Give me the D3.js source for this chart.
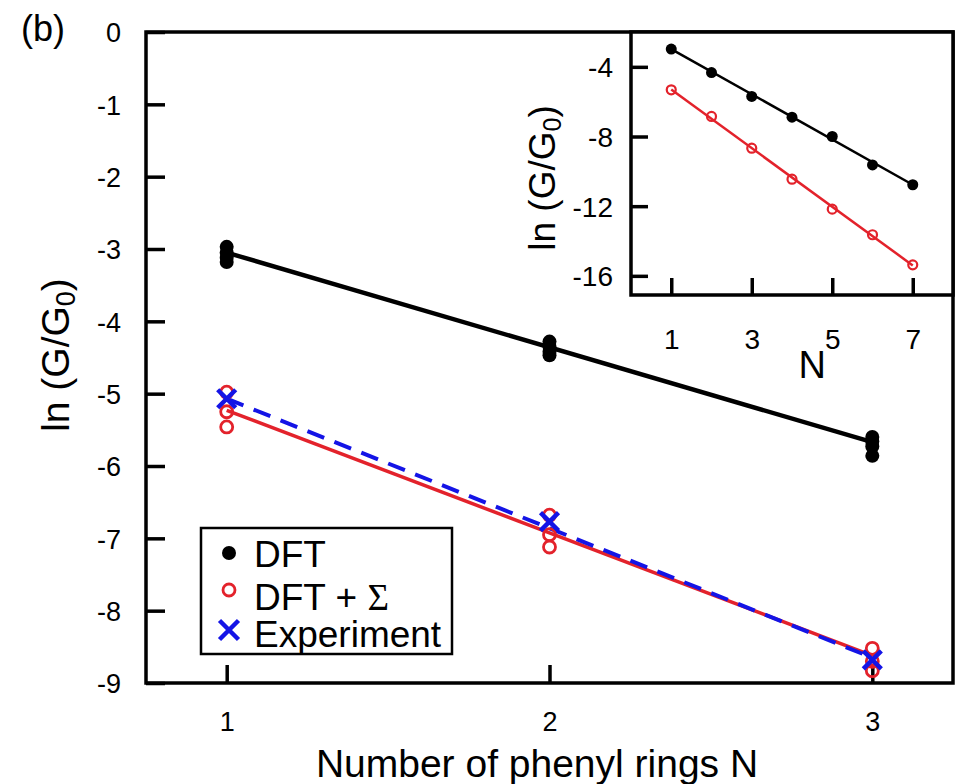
<!DOCTYPE html>
<html>
<head>
<meta charset="utf-8">
<script src="https://cdn.jsdelivr.net/npm/d3@7"></script>
<style>
  html, body { margin: 0; padding: 0; background: #fff; }
  svg text { font-family: "Liberation Sans", Arial, sans-serif; fill: #000; }
</style>
</head>
<body>
<svg id="chart" width="967" height="784"></svg>
<script>
'use strict';

// main panel: conductance vs number of phenyl rings
var dftN      = [1, 1, 1, 1, 2, 2, 2, 2, 3, 3, 3, 3];
var dftValues = [-2.97, -3.05, -3.12, -3.18, -4.28, -4.35, -4.42, -4.47, -5.60, -5.66, -5.73, -5.86];
var sigmaN      = [1, 1, 1, 2, 2, 2, 3, 3, 3];
var sigmaValues = [-4.98, -5.25, -5.46, -6.68, -6.95, -7.12, -8.52, -8.70, -8.83];
var expN      = [1, 2, 3];
var expValues = [-5.07, -6.77, -8.68];
// fitted lines, end points at N = 1 and N = 3
var fitN     = [1, 3];
var dftFit   = [-3.05, -5.67];
var sigmaFit = [-5.23, -8.62];
var expFit   = [-5.07, -8.65];
var mainXTicks = [1, 2, 3];
var mainYTicks = [0, -1, -2, -3, -4, -5, -6, -7, -8, -9];

// inset: longer molecules
var insetN          = [1, 2, 3, 4, 5, 6, 7];
var insetDft        = [-2.98, -4.33, -5.70, -6.89, -8.00, -9.63, -10.77];
var insetSigma      = [-5.32, -6.85, -8.67, -10.45, -12.17, -13.64, -15.37];
var insetFitN       = [1, 7];
var insetDftFit     = [-2.98, -10.77];
var insetSigmaFit   = [-5.30, -15.40];
var insetXTicks = [1, 3, 5, 7];
var insetYTicks = [-4, -8, -12, -16];

var legendLabels = ['DFT', 'DFT + ', 'Experiment'];

var RED = '#e3222b', BLUE = '#1414e6';

var svg = d3.select('#chart');

// ---------- main panel ----------
var x = d3.scaleLinear().domain([0.75, 3.25]).range([146, 953]);
var y = d3.scaleLinear().domain([-9, 0]).range([683, 32]);

var xAxis = d3.axisBottom(x).tickValues(mainXTicks).tickSize(-18).tickPadding(29).tickFormat(d3.format('d'));
var yAxis = d3.axisLeft(y).tickValues(mainYTicks).tickSize(-19).tickPadding(25).tickFormat(function (d) { return d === 0 ? '0' : '-' + Math.abs(d); });

var gx = svg.append('g').attr('transform', 'translate(0,683)').call(xAxis);
var gy = svg.append('g').attr('transform', 'translate(146,0)').call(yAxis);
[gx, gy].forEach(function (g) {
  g.select('.domain').remove();
  g.selectAll('.tick line').attr('stroke', '#000').attr('stroke-width', 3.5);
  g.selectAll('.tick text').attr('font-size', 27).attr('font-family', '"Liberation Sans", Arial, sans-serif');
});
gy.selectAll('.tick text').attr('dy', '0.36em');

var line = function (xs, ys, sx, sy) {
  return d3.line().x(function (d) { return sx(d[0]); }).y(function (d) { return sy(d[1]); })(d3.zip(xs, ys));
};

svg.append('path').attr('d', line(fitN, dftFit, x, y))
  .attr('stroke', '#000').attr('stroke-width', 4.5).attr('fill', 'none');
svg.append('path').attr('d', line(fitN, sigmaFit, x, y))
  .attr('stroke', RED).attr('stroke-width', 3.5).attr('fill', 'none');
svg.append('path').attr('d', line(fitN, expFit, x, y))
  .attr('stroke', BLUE).attr('stroke-width', 4).attr('fill', 'none')
  .attr('stroke-dasharray', '18,11');

svg.append('g').selectAll('circle').data(d3.zip(dftN, dftValues)).enter().append('circle')
  .attr('cx', function (d) { return x(d[0]); })
  .attr('cy', function (d) { return y(d[1]); })
  .attr('r', 7).attr('fill', '#000');

svg.append('g').selectAll('circle').data(d3.zip(sigmaN, sigmaValues)).enter().append('circle')
  .attr('cx', function (d) { return x(d[0]); })
  .attr('cy', function (d) { return y(d[1]); })
  .attr('r', 6).attr('fill', 'none').attr('stroke', RED).attr('stroke-width', 2.8);

var cross = function (s) { return 'M' + (-s) + ',' + (-s) + 'L' + s + ',' + s + 'M' + (-s) + ',' + s + 'L' + s + ',' + (-s); };

svg.append('g').selectAll('path').data(d3.zip(expN, expValues)).enter().append('path')
  .attr('transform', function (d) { return 'translate(' + x(d[0]) + ',' + y(d[1]) + ')'; })
  .attr('d', cross(9)).attr('stroke', BLUE).attr('stroke-width', 4.5).attr('fill', 'none');

// frame
svg.append('rect').attr('x', 146).attr('y', 32).attr('width', 807).attr('height', 651)
  .attr('fill', 'none').attr('stroke', '#000').attr('stroke-width', 3.5);

// legend
var lg = svg.append('g');
lg.append('rect').attr('x', 201).attr('y', 528).attr('width', 251).attr('height', 126)
  .attr('fill', '#fff').attr('stroke', '#000').attr('stroke-width', 2.5);
lg.append('circle').attr('cx', 229).attr('cy', 553).attr('r', 7).attr('fill', '#000');
lg.append('circle').attr('cx', 229).attr('cy', 590).attr('r', 6).attr('fill', 'none').attr('stroke', RED).attr('stroke-width', 2.8);
lg.append('path').attr('transform', 'translate(229,630)').attr('d', cross(9.5))
  .attr('stroke', BLUE).attr('stroke-width', 4.5);
lg.append('text').attr('x', 254).attr('y', 567).attr('font-size', 37).text(legendLabels[0]);
var t2 = lg.append('text').attr('x', 254).attr('y', 610).attr('font-size', 37).text(legendLabels[1]);
t2.append('tspan').attr('font-family', '"Liberation Serif", "Times New Roman", serif').text('\u03A3');
lg.append('text').attr('x', 254).attr('y', 647).attr('font-size', 37).text(legendLabels[2]);

// axis titles
svg.append('text').attr('x', 537).attr('y', 777).attr('text-anchor', 'middle').attr('font-size', 39)
  .text('Number of phenyl rings N');
var yl = svg.append('text').attr('transform', 'translate(69,355) rotate(-90)').attr('text-anchor', 'middle').attr('font-size', 39);
yl.append('tspan').text('ln (G/G');
yl.append('tspan').attr('font-size', 27).attr('dy', 6).text('0');
yl.append('tspan').attr('dy', -6).text(')');

svg.append('text').attr('x', 21).attr('y', 41).attr('font-size', 36).text('(b)');

// ---------- inset ----------
var ix = d3.scaleLinear().domain([0, 8]).range([631, 953]);
var iy = d3.scaleLinear().domain([-17.1, -2]).range([295, 32]);

svg.append('rect').attr('x', 631).attr('y', 32).attr('width', 322).attr('height', 263)
  .attr('fill', '#fff').attr('stroke', 'none');

var ixAxis = d3.axisBottom(ix).tickValues(insetXTicks).tickSize(-17).tickPadding(34).tickFormat(d3.format('d'));
var iyAxis = d3.axisLeft(iy).tickValues(insetYTicks).tickSize(-17).tickPadding(18);
var igx = svg.append('g').attr('transform', 'translate(0,295)').call(ixAxis);
var igy = svg.append('g').attr('transform', 'translate(631,0)').call(iyAxis);
[igx, igy].forEach(function (g) {
  g.select('.domain').remove();
  g.selectAll('.tick line').attr('stroke', '#000').attr('stroke-width', 3.5);
  g.selectAll('.tick text').attr('font-size', 28).attr('font-family', '"Liberation Sans", Arial, sans-serif');
});
igy.selectAll('.tick text').attr('dy', '0.36em').text(function (d) { return '-' + Math.abs(d); });

svg.append('path').attr('d', line(insetFitN, insetDftFit, ix, iy))
  .attr('stroke', '#000').attr('stroke-width', 2.5).attr('fill', 'none');
svg.append('path').attr('d', line(insetFitN, insetSigmaFit, ix, iy))
  .attr('stroke', RED).attr('stroke-width', 2.5).attr('fill', 'none');

svg.append('g').selectAll('circle').data(d3.zip(insetN, insetDft)).enter().append('circle')
  .attr('cx', function (d) { return ix(d[0]); })
  .attr('cy', function (d) { return iy(d[1]); })
  .attr('r', 5.5).attr('fill', '#000');
svg.append('g').selectAll('circle').data(d3.zip(insetN, insetSigma)).enter().append('circle')
  .attr('cx', function (d) { return ix(d[0]); })
  .attr('cy', function (d) { return iy(d[1]); })
  .attr('r', 4.5).attr('fill', 'none').attr('stroke', RED).attr('stroke-width', 2.2);

svg.append('rect').attr('x', 631).attr('y', 32).attr('width', 322).attr('height', 263)
  .attr('fill', 'none').attr('stroke', '#000').attr('stroke-width', 3.5);

svg.append('text').attr('x', ix(4.5)).attr('y', 378).attr('text-anchor', 'middle').attr('font-size', 38).text('N');
var iyl = svg.append('text').attr('transform', 'translate(555,178) rotate(-90)').attr('text-anchor', 'middle').attr('font-size', 37);
iyl.append('tspan').text('ln (G/G');
iyl.append('tspan').attr('font-size', 25).attr('dy', 6).text('0');
iyl.append('tspan').attr('dy', -6).text(')');
</script>
</body>
</html>
